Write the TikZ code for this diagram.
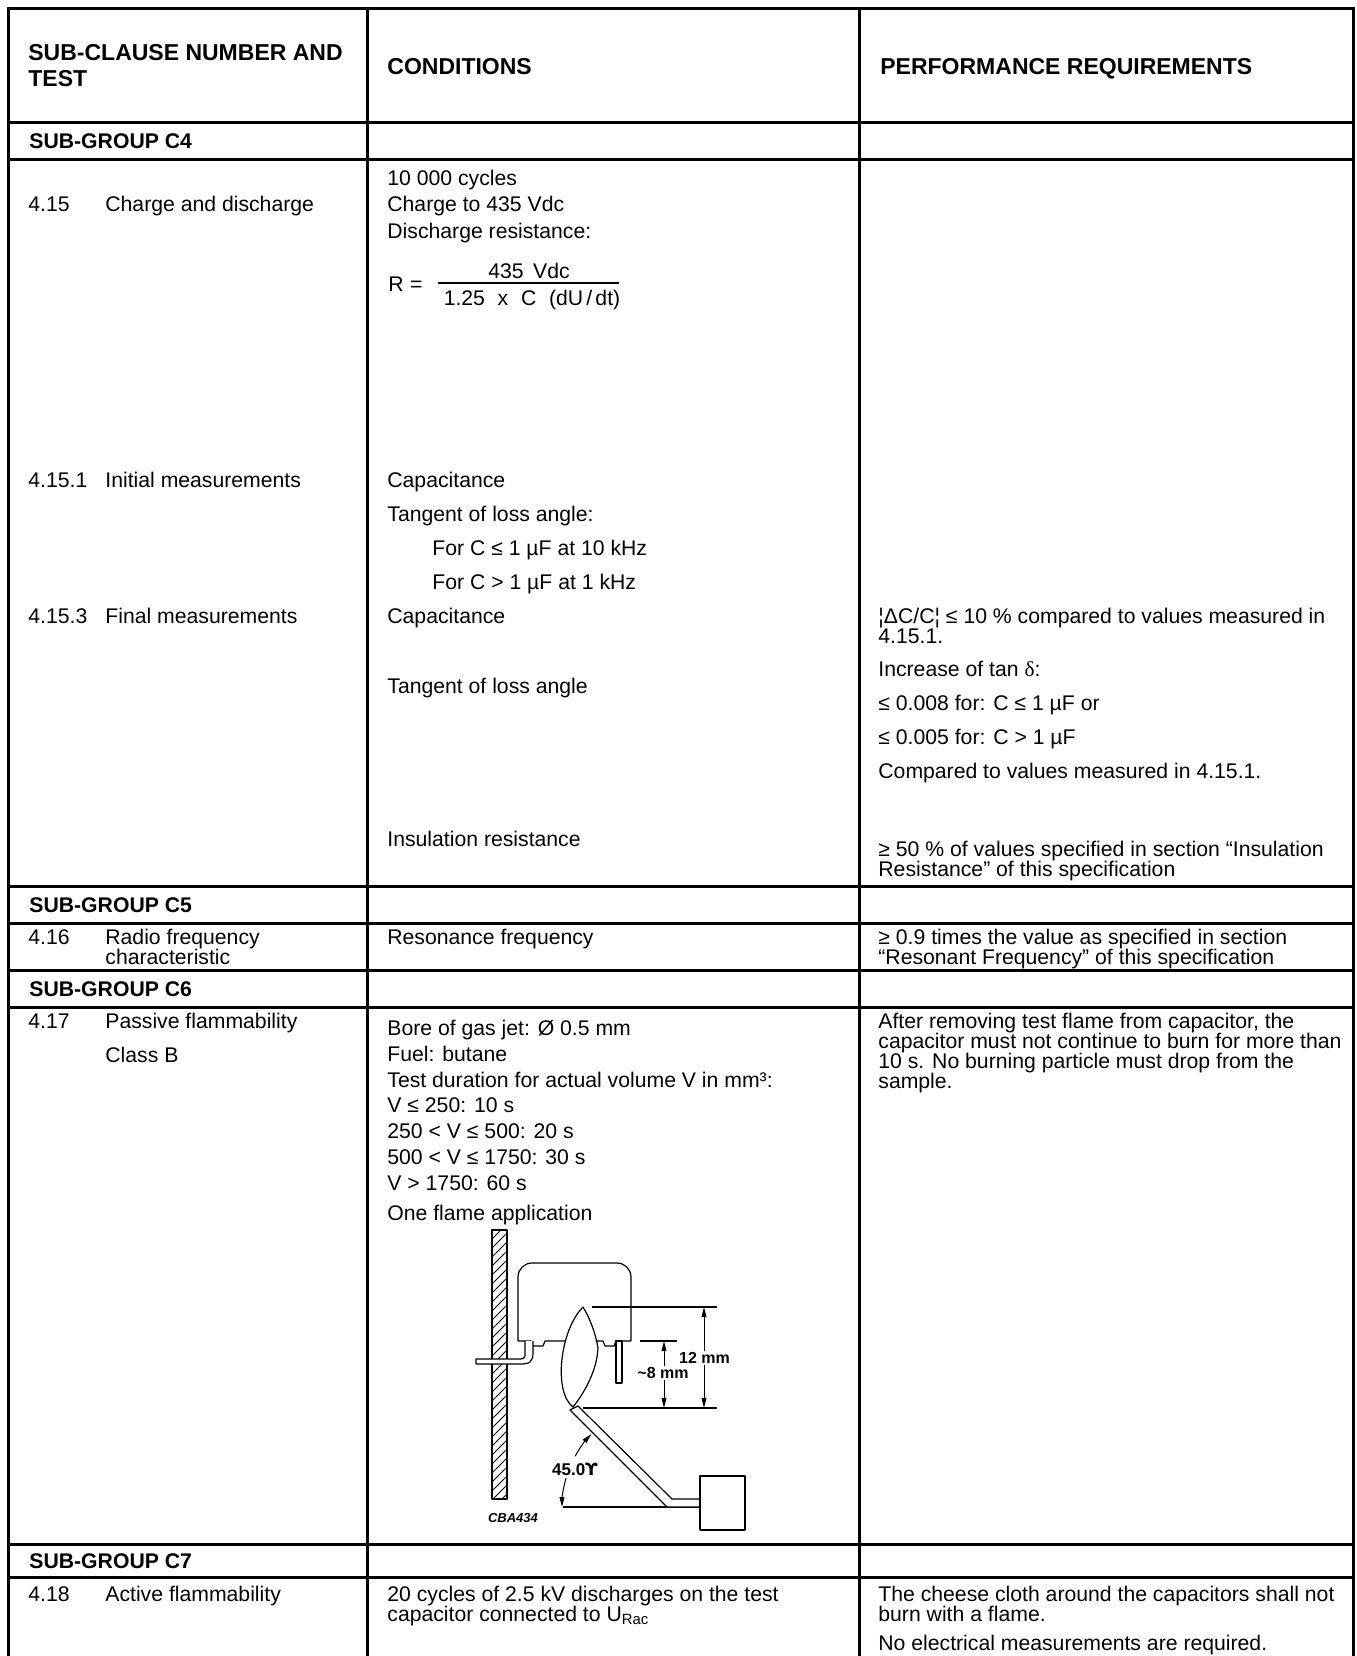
\documentclass[tikz,border=0pt]{standalone}
\usepackage{fontspec}
\setmainfont{Liberation Sans}
\newfontfamily\symbfont{Liberation Serif}
\newfontfamily\glyphfont{DejaVu Sans}
\usetikzlibrary{arrows.meta}

\begin{document}
\begin{tikzpicture}[x=0.5pt,y=-0.5pt]
	\tikzstyle{txt}=[anchor=base west, inner sep=0pt, align=left, font=\fontsize{10.6}{12.9}\selectfont]
	\tikzstyle{tight}=[txt, font=\fontsize{10.6}{10}\selectfont]
	\tikzstyle{hd}=[txt, font=\fontsize{11.5}{13}\selectfont\bfseries]
	\tikzstyle{grp}=[txt, font=\fontsize{10.6}{12}\selectfont\bfseries]
	\tikzstyle{gridline}=[line width=1.5pt, line cap=rect]
	\tikzstyle{part}=[line width=0.6pt, line join=round]
	\tikzstyle{dimline}=[line width=0.5pt, {Triangle[length=5pt,width=2.4pt]}-{Triangle[length=5pt,width=2.4pt]}]
	\tikzstyle{dimlbl}=[font=\fontsize{8}{9}\selectfont\bfseries, fill=white, inner sep=0.8pt]

	\useasboundingbox (0,0) rectangle (1356,1656);

	% table rules
	\foreach \y in {8,122,159,886,923,970,1007,1544,1577}
	\draw[gridline] (8,\y) -- (1353,\y);
	\foreach \x in {8,367,859,1353}
	\draw[gridline] (\x,8) -- (\x,1656);

	% header (multi-line nodes sit on their last line)
	\node[hd] (hclause) at (28,86) {SUB-CLAUSE NUMBER AND\\TEST};
	\node[hd] (hcond) at (387,74) {CONDITIONS};
	\node[hd] (hperf) at (880,74) {PERFORMANCE REQUIREMENTS};

	\foreach \g/\y in {C4/148,C5/912,C6/996,C7/1568}
	\node[grp] (g\g) at (29,\y) {SUB-GROUP \g};

	% 4.15
	\node[txt] (n415) at (28,211) {4.15};
	\node[txt] (t415) at (105,211) {Charge and discharge};
	\node[txt, font=\fontsize{10.6}{13.25}\selectfont] (c415) at (387,238) {10 000 cycles\\Charge to 435 Vdc\\Discharge resistance:};
	\node[txt] (fR) at (388,291) {R\hspace{0.3em}=};
	\node[txt, anchor=base] (fnum) at (529,278) {435\hspace{0.45em}Vdc};
	\node[txt, anchor=base] (fden) at (532,305) {1.25\hspace{0.6em}x\hspace{0.6em}C\hspace{0.6em}(dU\hspace{0.15em}/\hspace{0.15em}dt)};
	\draw[line width=0.6pt] (438,283) -- (619,283);

	% 4.15.1
	\node[txt] (n4151) at (28,487) {4.15.1};
	\node[txt] (t4151) at (105,487) {Initial measurements};
	\node[txt] (c4151a) at (387,487) {Capacitance};
	\node[txt] (c4151b) at (387,521) {Tangent of loss angle:};
	\node[txt] (c4151c) at (432,555) {For C ≤ 1 µF at 10 kHz};
	\node[txt] (c4151d) at (432,589) {For C > 1 µF at 1 kHz};

	% 4.15.3
	\node[txt] (n4153) at (28,623) {4.15.3};
	\node[txt] (t4153) at (105,623) {Final measurements};
	\node[txt] (c4153a) at (387,623) {Capacitance};
	\node[txt] (c4153b) at (387,693) {Tangent of loss angle};
	\node[txt] (c4153c) at (387,846) {Insulation resistance};
	\node[tight] (p4153a) at (878,643) {¦ΔC/C¦ ≤ 10 \% compared to values measured in\\4.15.1.};
	\node[txt] (p4153b) at (878,676) {Increase of tan {\symbfont δ}:};
	\node[txt] (p4153c) at (878,710) {≤ 0.008 for: C ≤ 1 µF or};
	\node[txt] (p4153d) at (878,744) {≤ 0.005 for: C > 1 µF};
	\node[txt] (p4153e) at (878,778) {Compared to values measured in 4.15.1.};
	\node[tight] (p4153f) at (878,876) {≥ 50 \% of values specified in section “Insulation\\Resistance” of this specification};

	% 4.16
	\node[txt] (n416) at (28,944) {4.16};
	\node[tight] (t416) at (105,964) {Radio frequency\\characteristic};
	\node[txt] (c416) at (387,944) {Resonance frequency};
	\node[tight] (p416) at (878,964) {≥ 0.9 times the value as specified in section\\“Resonant Frequency” of this specification};

	% 4.17
	\node[txt] (n417) at (28,1028) {4.17};
	\node[txt] (t417) at (105,1028) {Passive flammability};
	\node[txt] (t417b) at (105,1062) {Class B};
	\node[txt, font=\fontsize{10.6}{12.85}\selectfont] (c417) at (387,1190) {Bore of gas jet: Ø 0.5 mm\\Fuel: butane\\Test duration for actual volume V in mm³:\\V ≤ 250: 10 s\\250 < V ≤ 500: 20 s\\500 < V ≤ 1750: 30 s\\V > 1750: 60 s};
	\node[txt] (c417b) at (387,1220) {One flame application};
	\node[tight] (p417) at (878,1088) {After removing test flame from capacitor, the\\capacitor must not continue to burn for more than\\10 s. No burning particle must drop from the\\sample.};

	% flame test sketch
	\draw[part] (492,1230) rectangle (507,1499);
	\begin{scope}
		\clip (492,1230) rectangle (507,1499);
		\foreach \h in {1230,1239,...,1520}
		\draw[line width=0.4pt] (492,\h) -- (507,\h-15);
	\end{scope}
	\draw[part, rounded corners=7] (518,1341) -- (518,1263) -- (631,1263) -- (631,1341);
	\draw[part] (518,1341) -- (531,1341) -- (533,1346) -- (543,1346) -- (545,1341) -- (603,1341)
		-- (605,1346) -- (614,1346) -- (616,1341) -- (631,1341);
	\draw[part, fill=white] (533,1341) -- (533,1352) .. controls (533,1362) and (530,1364) .. (520,1364)
		-- (476,1364) -- (476,1359) -- (520,1359) .. controls (526,1359) and (525,1356) .. (525,1352) -- (525,1341);
	\draw[part, fill=white] (616,1341) rectangle (622,1383);
	\draw[part, fill=white] (583,1307) .. controls (560,1330) and (553,1392) .. (573,1407)
		.. controls (585,1392) and (597,1370) .. (598,1348)
		.. controls (596,1335) and (590,1318) .. (583,1307) -- cycle;
	\draw[part] (563,1507) -- (700,1507);
	\draw[part, fill=white] (570,1410) -- (578,1406) -- (672,1499) -- (700,1499) -- (700,1507) -- (667,1507) -- cycle;
	\draw[part, fill=white] (700,1476) rectangle (745,1530);

	% dimensions
	\draw[part] (592,1307) -- (717,1307);
	\draw[part] (583,1408) -- (717,1408);
	\draw[part] (640,1341) -- (677,1341);
	\coordinate (d12t) at (704,1307);
	\coordinate (d12b) at (704,1408);
	\coordinate (d8t) at (664,1341);
	\coordinate (d8b) at (664,1408);
	\draw[dimline] (d12t) -- (d12b);
	\node[dimlbl] (l12) at (704.5,1358) {12 mm};
	\draw[dimline] (d8t) -- (d8b);
	\node[dimlbl] (l8) at (663,1373) {\textasciitilde 8 mm};
	\coordinate (bend) at (667,1507);
	\draw[line width=0.5pt, -{Triangle[length=5pt,width=2.4pt]}] ([shift={(151:52.5pt)}]bend) arc[start angle=151, end angle=136, radius=52.5pt];
	\draw[line width=0.5pt, -{Triangle[length=5pt,width=2.4pt]}] ([shift={(164:52.5pt)}]bend) arc[start angle=164, end angle=180, radius=52.5pt];
	\node[font=\fontsize{8.5}{9}\selectfont\bfseries, inner sep=0pt] (lang) at (575,1469) {45.0{\glyphfont ϒ}};
	\node[font=\fontsize{6.5}{7}\selectfont\bfseries\itshape, inner sep=0pt] (code) at (513,1518) {CBA434};

	% 4.18
	\node[txt] (n418) at (28,1601) {4.18};
	\node[txt] (t418) at (105,1601) {Active flammability};
	\node[tight] (c418) at (387,1621) {20 cycles of 2.5 kV discharges on the test\\capacitor connected to U\textsubscript{Rac}};
	\node[tight] (p418) at (878,1621) {The cheese cloth around the capacitors shall not\\burn with a flame.};
	\node[txt] (p418b) at (878,1650) {No electrical measurements are required.};
\end{tikzpicture}
\end{document}
